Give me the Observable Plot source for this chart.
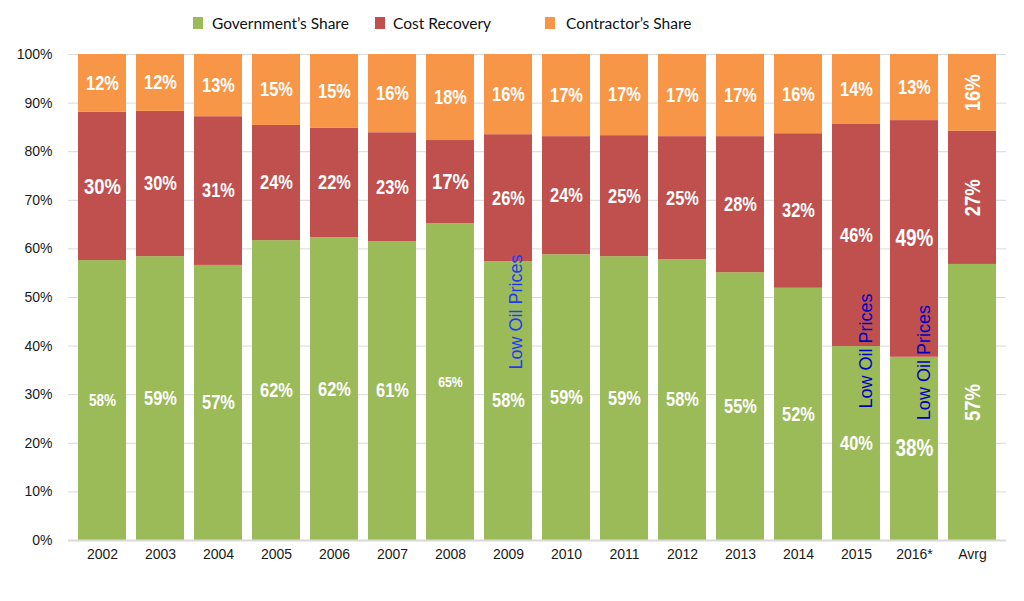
<!DOCTYPE html>
<html>
<head>
<meta charset="utf-8">
<script src="https://cdn.jsdelivr.net/npm/d3@7"></script>
<script src="https://cdn.jsdelivr.net/npm/@observablehq/plot@0.6"></script>
<style>
  body { margin: 0; background: #fff; }
  #wrap { position: relative; width: 1024px; height: 601px; overflow: hidden; }
  #legend { position: relative; height: 44px; font-family: Lato, "Liberation Sans", sans-serif; font-size: 15.5px; color: #111; }
  .sw { position: absolute; top: 17px; width: 10px; height: 12px; }
  .lt { position: absolute; top: 13px; line-height: 20px; white-space: nowrap; }
  #chart svg { display: block; }
</style>
</head>
<body>
<div id="wrap">
  <div id="legend"></div>
  <div id="chart"></div>
</div>
<script>
// ---- data ----
const years = ["2002","2003","2004","2005","2006","2007","2008","2009","2010","2011","2012","2013","2014","2015","2016*","Avrg"];
const series = ["Government\u2019s Share", "Cost Recovery", "Contractor\u2019s Share"];
const colors = ["#9BBB59", "#C0504D", "#F79646"];

const govShare        = [57.6, 58.4, 56.6, 61.7, 62.3, 61.5, 65.2, 57.4, 58.8, 58.4, 57.8, 55.1, 51.9, 39.9, 37.7, 56.8];
const costRecovery    = [30.5, 29.9, 30.6, 23.7, 22.5, 22.4, 17.1, 26.1, 24.3, 24.9, 25.3, 28.0, 31.8, 45.7, 48.7, 27.4];
const contractorShare = [11.9, 11.7, 12.8, 14.6, 15.2, 16.1, 17.7, 16.5, 16.9, 16.7, 16.9, 16.9, 16.3, 14.4, 13.6, 15.8];

const govLabels        = ["58%","59%","57%","62%","62%","61%","65%","58%","59%","59%","58%","55%","52%","40%","38%","57%"];
const costLabels       = ["30%","30%","31%","24%","22%","23%","17%","26%","24%","25%","25%","28%","32%","46%","49%","27%"];
const contractorLabels = ["12%","12%","13%","15%","15%","16%","18%","16%","17%","17%","17%","17%","16%","14%","13%","16%"];

const yTicks = [0,10,20,30,40,50,60,70,80,90,100];

const noteYears  = ["2009", "2015", "2016*"];
const noteValues = [47, 39, 36.6];
const noteText   = "Low Oil Prices";

// ---- build table ----
const values = [govShare, costRecovery, contractorShare];
const labels = [govLabels, costLabels, contractorLabels];
const table = years.flatMap((year, i) => series.map((s, j) => ({year, series: s, value: values[j][i], label: labels[j][i]})));
const notes = noteYears.map((year, i) => ({year, value: noteValues[i], text: noteText}));

// per-label font sizes (style, not data)
function labelSize(d) {
  if (d.year === "2002" && d.series === series[1]) return 22.5;
  if (d.year === "2002" && d.series === series[0]) return 16.5;
  if (d.year === "2008" && d.series === series[0]) return 15;
  if (d.year === "2008" && d.series === series[1]) return 22.5;
  if (d.year === "2016*" && d.series !== series[2]) return 23;
  if (d.year === "Avrg") return 22.5;
  return 20;
}
const labelFont = "'Liberation Sans', Arial, sans-serif";

// ---- legend ----
const legendPos = [[193, 212], [375, 393], [545, 566]];
const legend = document.getElementById("legend");
series.forEach((s, i) => {
  const sw = document.createElement("div");
  sw.className = "sw"; sw.style.left = legendPos[i][0] + "px"; sw.style.background = colors[i];
  const t = document.createElement("div");
  t.className = "lt"; t.style.left = legendPos[i][1] + "px"; t.textContent = s;
  legend.append(sw, t);
});

// ---- chart ----
const chart = Plot.plot({
  width: 1024,
  height: 557,
  marginTop: 10,
  marginBottom: 61,
  marginLeft: 68,
  marginRight: 18,
  style: {fontFamily: "'Liberation Sans', Arial, sans-serif", fontSize: "14px", color: "#1a1a1a", background: "#fff"},
  x: {type: "band", domain: years, paddingInner: 0.18, paddingOuter: 0.09, label: null, tickSize: 0, tickPadding: 9},
  y: {domain: [0, 100], label: null, ticks: yTicks, tickFormat: d => d + "%", tickSize: 0, tickPadding: 16},
  color: {domain: series, range: colors},
  marks: [
    Plot.ruleY(yTicks, {stroke: "#d9d9d9", strokeWidth: 1}),
    Plot.barY(table, Plot.stackY({x: "year", y: "value", fill: "series", order: series})),
    Plot.ruleY([0], {stroke: "#d9d9d9", strokeWidth: 2}),
    Plot.text(table.filter(d => d.year !== "Avrg"), Plot.stackY({
      x: "year", y: "value", z: "series", order: series, text: "label",
      fill: "white", fontWeight: "bold", fontFamily: labelFont, fontSize: labelSize
    })),
    Plot.text(table.filter(d => d.year === "Avrg"), Plot.stackY({
      x: "year", y: "value", z: "series", order: series, text: "label", rotate: -90,
      fill: "white", fontWeight: "bold", fontFamily: labelFont, fontSize: labelSize
    })),
    Plot.text(notes.filter(d => d.year === "2009"), {
      x: "year", y: "value", text: "text", rotate: -90, dx: 8,
      fill: "#1f3cf0", fontSize: 18
    }),
    Plot.text(notes.filter(d => d.year !== "2009"), {
      x: "year", y: "value", text: "text", rotate: -90, dx: 10,
      fill: "#0000bf", fontSize: 18
    })
  ]
});
document.getElementById("chart").append(chart);

// narrow the bold value labels (Arial Narrow look)
chart.querySelectorAll('g[fill="white"] text').forEach(t => {
  const len = t.getComputedTextLength();
  t.setAttribute("textLength", (len * 0.82).toFixed(1));
  t.setAttribute("lengthAdjust", "spacingAndGlyphs");
});
</script>
</body>
</html>
